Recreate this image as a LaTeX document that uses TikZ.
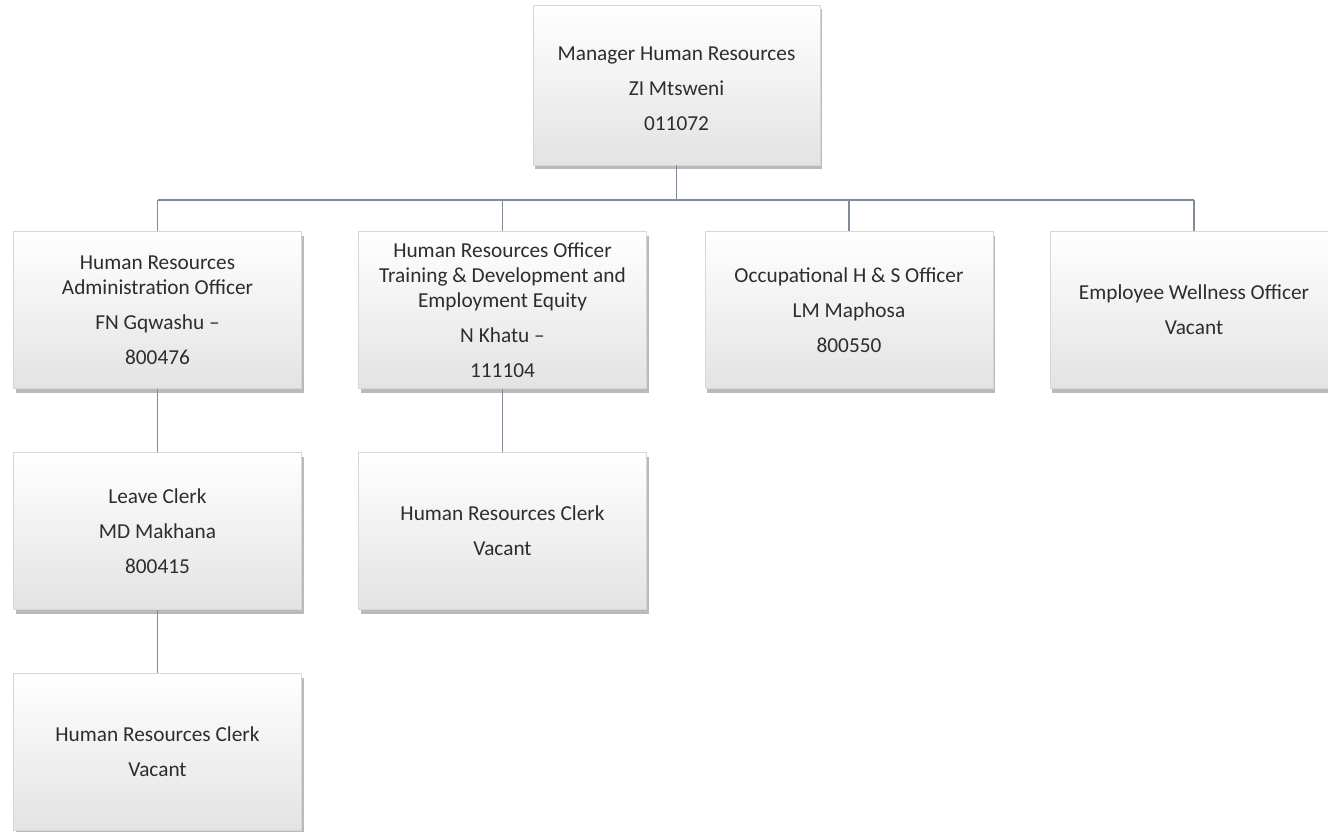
\documentclass[tikz,border=0pt]{standalone}
\usepackage{fontspec}
\setmainfont{Carlito}
\usetikzlibrary{shadows}
\definecolor{linkcol}{RGB}{130,140,152}
\definecolor{boxline}{RGB}{215,215,215}
\definecolor{txt}{RGB}{45,45,45}
\tikzset{
  post/.style={rectangle, draw=boxline, line width=0.6pt,
    top color=white, middle color=white, bottom color=black!11,
    drop shadow={shadow xshift=2pt, shadow yshift=-4pt, fill=black!45, opacity=0.6},
    minimum width=288pt, minimum height=157pt, inner sep=0pt,
    align=center, text=txt, font=\fontsize{21.3}{25}\selectfont},
  link/.style={draw=linkcol, line width=1.6pt}
}
\newcommand{\pgap}{\\[10pt]}
\begin{document}
\begin{tikzpicture}[x=1pt,y=-1pt]
\useasboundingbox (0,0) rectangle (1328,832);
\fill[white] (0,0) rectangle (1328,832);

% connector bus height
\coordinate (bus) at (0,200);

\node[post, minimum width=287pt, minimum height=160pt] (mgr) at (676.5,85)
  {\\[-4pt]Manager Human Resources\pgap ZI Mtsweni\pgap 011072};

\node[post] (adm) at (157.5,310)
  {Human Resources\\Administration Officer\pgap FN Gqwashu --\pgap 800476};
\node[post] (trn) at (502.5,310)
  {Human Resources Officer\\Training \& Development and\\Employment Equity\pgap N Khatu --\pgap 111104};
\node[post] (ohs) at (849,310)
  {Occupational H \& S Officer\pgap LM Maphosa\pgap 800550};
\node[post] (ewo) at (1194,310)
  {Employee Wellness Officer\pgap Vacant};

\node[post] (lve) at (157.5,531)
  {Leave Clerk\pgap MD Makhana\pgap 800415};
\node[post] (hrc2) at (502.5,531)
  {Human Resources Clerk\pgap Vacant};

\node[post] (hrc1) at (157.5,752)
  {Human Resources Clerk\pgap Vacant};

% reporting lines
\draw[link] (mgr.south) -- (mgr.south |- bus);
\draw[link] (adm.north |- bus) -- (ewo.north |- bus);
\foreach \n in {adm,trn,ohs,ewo}
  \draw[link] (\n.north |- bus) -- (\n.north);
\draw[link] (adm.south) -- (lve.north);
\draw[link] (lve.south) -- (hrc1.north);
\draw[link] (trn.south) -- (hrc2.north);
\end{tikzpicture}
\end{document}
